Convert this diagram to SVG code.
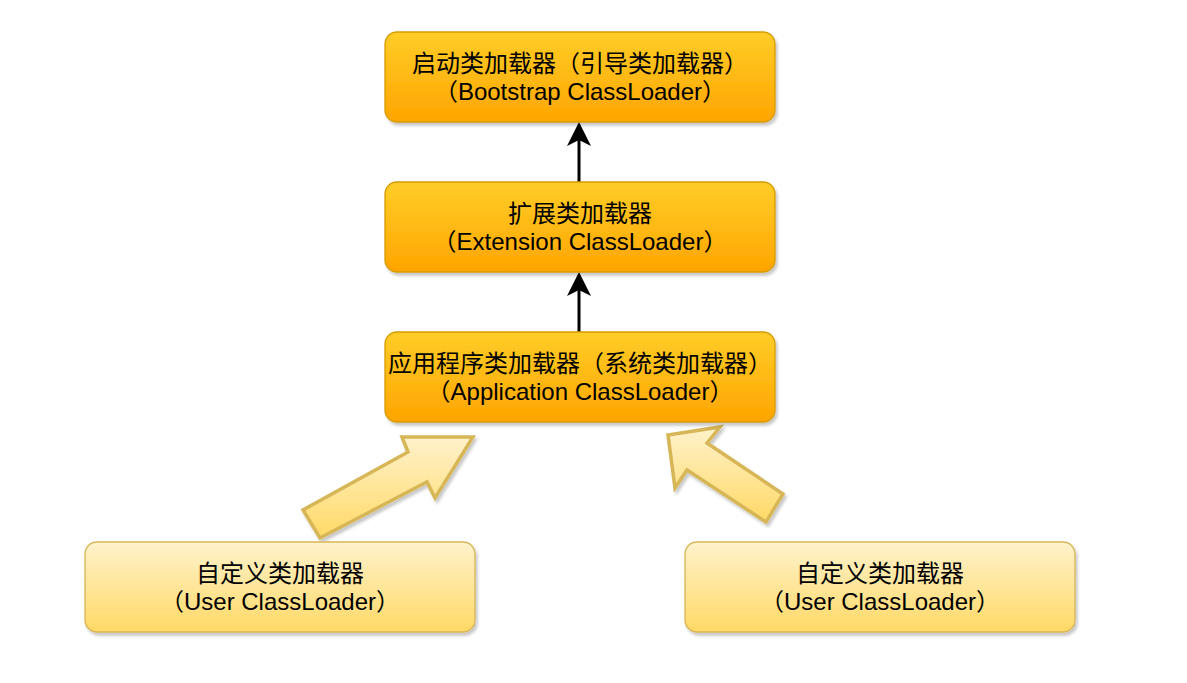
<svg xmlns="http://www.w3.org/2000/svg" width="1187" height="683" viewBox="0 0 1187 683">
<style>
.t{font-family:"Liberation Sans","Noto Sans CJK SC",sans-serif;font-size:24px;fill:#000;text-anchor:middle}
.or{fill:url(#gOr);stroke:#d79b00;stroke-width:1.3}
.ye{fill:url(#gYe);stroke:#d6b656;stroke-width:1.3}
.big{fill:url(#gYe);stroke:#d6b656;stroke-width:3.5;stroke-linejoin:miter}
.ln{stroke:#000;stroke-width:3;fill:none}
</style>
<defs>
<linearGradient id="gOr" x1="0" y1="0" x2="0" y2="1"><stop offset="0" stop-color="#ffcd28"/><stop offset="1" stop-color="#ffa500"/></linearGradient>
<linearGradient id="gYe" x1="0" y1="0" x2="0" y2="1"><stop offset="0" stop-color="#fff2cc"/><stop offset="1" stop-color="#ffd966"/></linearGradient>
<filter id="sh" x="-10%" y="-10%" width="120%" height="130%"><feDropShadow dx="2" dy="3" stdDeviation="1.5" flood-color="#000" flood-opacity="0.22"/></filter>
<marker id="ah" viewBox="0 0 24 24" refX="12" refY="2" markerWidth="24" markerHeight="24" markerUnits="userSpaceOnUse" orient="auto-start-reverse">
<path d="M12,1 L23,23 L12,18 L1,23 Z" fill="#000"/>
</marker>
</defs>
<g id="connectors">
<path class="ln" d="M579,182 L579,128"/>
<path d="M579,122 L567,146 L579,140 L591,146 Z" fill="#000"/>
<path class="ln" d="M579,332 L579,278"/>
<path d="M579,272 L567,296 L579,290 L591,296 Z" fill="#000"/>
<polygon class="big" filter="url(#sh)" points="408,452 402,437 473,437 435,498 427,482 320,538 303,510"/>
<polygon class="big" filter="url(#sh)" points="668,435 720,427 707,443 783,494 766,522 687,470 675,488"/>
</g>
<g id="bootstrap">
<rect class="or" filter="url(#sh)" x="385" y="32" width="390" height="90" rx="12"/>
<text class="t" x="580" y="72">启动类加载器（引导类加载器）</text>
<text class="t" x="580" y="100">（Bootstrap ClassLoader）</text>
</g>
<g id="extension">
<rect class="or" filter="url(#sh)" x="385" y="182" width="390" height="90" rx="12"/>
<text class="t" x="580" y="222">扩展类加载器</text>
<text class="t" x="580" y="250">（Extension ClassLoader）</text>
</g>
<g id="application">
<rect class="or" filter="url(#sh)" x="385" y="332" width="390" height="90" rx="12"/>
<text class="t" x="580" y="372">应用程序类加载器（系统类加载器）</text>
<text class="t" x="580" y="400">（Application ClassLoader）</text>
</g>
<g id="user1">
<rect class="ye" filter="url(#sh)" x="85" y="542" width="390" height="90" rx="12"/>
<text class="t" x="280" y="582">自定义类加载器</text>
<text class="t" x="280" y="610">（User ClassLoader）</text>
</g>
<g id="user2">
<rect class="ye" filter="url(#sh)" x="685" y="542" width="390" height="90" rx="12"/>
<text class="t" x="880" y="582">自定义类加载器</text>
<text class="t" x="880" y="610">（User ClassLoader）</text>
</g>
</svg>
